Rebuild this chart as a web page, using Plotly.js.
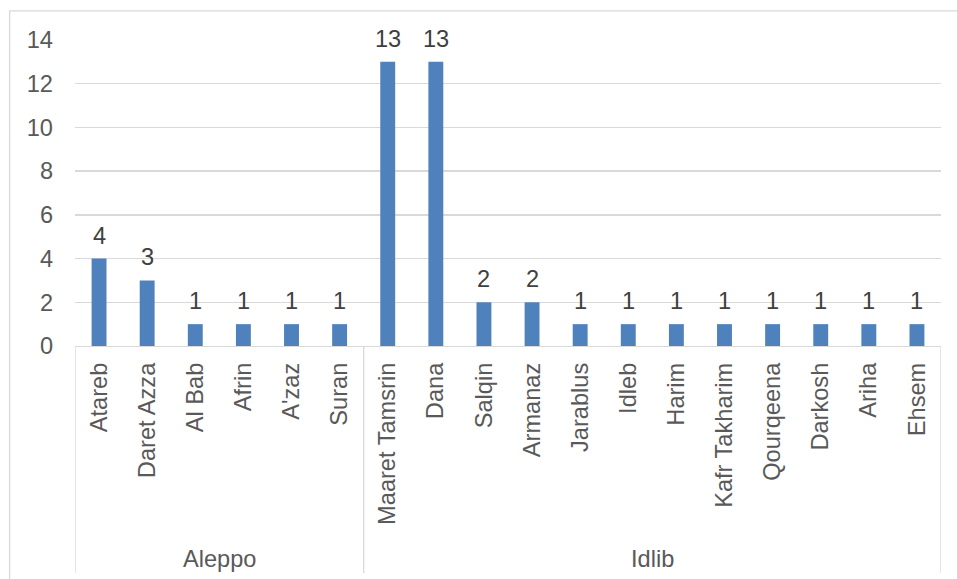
<!DOCTYPE html>
<html>
<head>
<meta charset="utf-8">
<script src="https://cdn.plot.ly/plotly-3.0.1.min.js"></script>
<style>html,body{margin:0;padding:0;background:#fff;}#chart{width:957px;height:579px;}</style>
</head>
<body>
<div id="chart"></div>
<script>
// Data
var groups = ["Aleppo", "Idlib"];
var groupSizes = [6, 12];
var categories = ["Atareb", "Daret Azza", "Al Bab", "Afrin", "A'zaz", "Suran",
  "Maaret Tamsrin", "Dana", "Salqin", "Armanaz", "Jarablus", "Idleb", "Harim",
  "Kafr Takharim", "Qourqeena", "Darkosh", "Ariha", "Ehsem"];
var values = [4, 3, 1, 1, 1, 1, 13, 13, 2, 2, 1, 1, 1, 1, 1, 1, 1, 1];
var yTicks = [0, 2, 4, 6, 8, 10, 12, 14];

var FONT = "Liberation Sans, Arial, sans-serif";
var FS = 23.6;
var GRID = "#D9D9D9";

var annotations = categories.map(function (c, i) {
  return {
    x: c, y: values[i], xref: "x", yref: "y",
    text: String(values[i]), showarrow: false,
    yanchor: "bottom", yshift: 8,
    font: {family: FONT, size: FS, color: "#404040"}
  };
});

var shapes = [];
// outer chart border
shapes.push({type: "rect", xref: "paper", yref: "paper",
  x0: -0.0755, x1: 1.2, y0: -1.2, y1: 1.0955,
  line: {color: GRID, width: 1.3}, fillcolor: "rgba(0,0,0,0)", layer: "below"});
// group dividers
var start = 0;
var boundaries = [-0.5];
groupSizes.forEach(function (n) { start += n; boundaries.push(start - 0.5); });
boundaries.forEach(function (b) {
  shapes.push({type: "line", xref: "x", yref: "paper",
    x0: b, x1: b, y0: 0, y1: -0.742,
    line: {color: GRID, width: 1.3}});
});
// group labels
start = 0;
groups.forEach(function (g, k) {
  var mid = start + (groupSizes[k] - 1) / 2;
  start += groupSizes[k];
  annotations.push({x: mid, y: -0.697, xref: "x", yref: "paper",
    text: g, showarrow: false, yanchor: "middle", xanchor: "center",
    font: {family: FONT, size: FS, color: "#595959"}});
});

var trace = {
  type: "bar",
  x: categories,
  y: values,
  marker: {color: "#4F81BD"},
  hoverinfo: "x+y"
};

var layout = {
  width: 957, height: 579,
  margin: {l: 75, r: 16, t: 40, b: 233},
  paper_bgcolor: "#fff", plot_bgcolor: "#fff",
  bargap: 0.69,
  showlegend: false,
  font: {family: FONT, size: FS, color: "#595959"},
  xaxis: {
    type: "category",
    tickangle: -90,
    showgrid: false,
    showline: true, linecolor: GRID, linewidth: 1.3,
    ticks: "", ticklabelstandoff: 6,
    tickfont: {family: FONT, size: FS, color: "#595959"},
    range: [-0.5, categories.length - 0.5],
    fixedrange: true
  },
  yaxis: {
    range: [0, 14],
    tickvals: yTicks,
    ticktext: yTicks.map(String),
    showgrid: true, gridcolor: GRID, gridwidth: 1.3,
    zeroline: false, showline: false,
    ticks: "", ticklabelstandoff: 21,
    tickfont: {family: FONT, size: FS, color: "#595959"},
    fixedrange: true
  },
  shapes: shapes,
  annotations: annotations
};

Plotly.newPlot("chart", [trace], layout, {staticPlot: true, displayModeBar: false});
</script>
</body>
</html>
